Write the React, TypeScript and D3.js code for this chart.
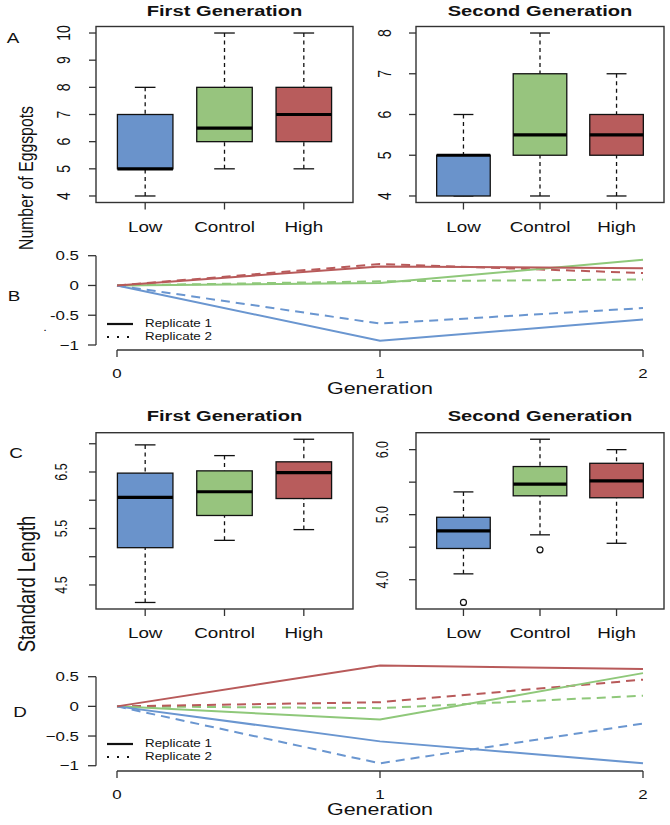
import React from "react";
import * as d3 from "d3";

// ---------- DATA ----------
const groups = ["Low", "Control", "High"];
const groupFill = ["#6a93cb", "#97c47e", "#b85c5c"];
const groupLine = ["#6a96d0", "#8fc87a", "#b85a5a"];

// box stats: [lower whisker, Q1, median, Q3, upper whisker]
const eggspotsGen1 = [
  [4, 5, 5, 7, 8],
  [5, 6, 6.5, 8, 10],
  [5, 6, 7, 8, 10],
];
const eggspotsGen2 = [
  [4, 4, 5, 5, 6],
  [4, 5, 5.5, 7, 8],
  [4, 5, 5.5, 6, 7],
];
const lengthGen1 = [
  [4.19, 5.16, 6.05, 6.48, 6.98],
  [5.29, 5.73, 6.15, 6.52, 6.79],
  [5.48, 6.03, 6.49, 6.68, 7.08],
];
const lengthGen2 = [
  [4.09, 4.48, 4.75, 4.96, 5.35],
  [4.69, 5.29, 5.47, 5.74, 6.16],
  [4.56, 5.26, 5.52, 5.79, 6.0],
];
const lengthGen2Outliers = [[3.65], [4.46], []];

const eggGen1Ticks = [4, 5, 6, 7, 8, 9, 10];
const eggGen1TickLabels = ["4", "5", "6", "7", "8", "9", "10"];
const eggGen2Ticks = [4, 5, 6, 7, 8];
const eggGen2TickLabels = ["4", "5", "6", "7", "8"];
const lenGen1Ticks = [4.5, 5, 5.5, 6, 6.5, 7];
const lenGen1TickLabels = ["4.5", "", "5.5", "", "6.5", ""];
const lenGen2Ticks = [4, 4.5, 5, 5.5, 6];
const lenGen2TickLabels = ["4.0", "", "5.0", "", "6.0"];

const generations = [0, 1, 2];
const generationLabels = ["0", "1", "2"];

// Panel B (eggspots change)
const eggLowRep1 = [0, -0.93, -0.57];
const eggLowRep2 = [0, -0.64, -0.38];
const eggControlRep1 = [0, 0.04, 0.43];
const eggControlRep2 = [0, 0.07, 0.1];
const eggHighRep1 = [0, 0.32, 0.29];
const eggHighRep2 = [0, 0.36, 0.21];

// Panel D (standard length change)
const lenLowRep1 = [0, -0.59, -0.96];
const lenLowRep2 = [0, -0.96, -0.29];
const lenControlRep1 = [0, -0.22, 0.56];
const lenControlRep2 = [0, -0.03, 0.18];
const lenHighRep1 = [0, 0.69, 0.63];
const lenHighRep2 = [0, 0.07, 0.45];

const changeTicks = [0.5, 0, -0.5, -1];
const changeTickLabelsB = ["0.5", "0", "-0.5", "\u22121"];
const changeTickLabelsD = ["0.5", "0", "\u22120.5", "\u22121"];
const legendLabels = ["Replicate 1", "Replicate 2"];

// ---------- STYLE ----------
const SX = 1.3;
const FONT = "'Liberation Sans', Arial, Helvetica, sans-serif";

function T({ x, y, size, children, anchor = "middle", weight = "normal", rotate = false }: any) {
  return (
    <text
      transform={`translate(${x},${y}) scale(${SX},1)${rotate ? " rotate(-90)" : ""}`}
      fontSize={size}
      fontWeight={weight}
      textAnchor={anchor}
      dominantBaseline="central"
      fontFamily={FONT}
      fill="#111"
    >
      {children}
    </text>
  );
}

function BoxPanel({ stats, outliers, x0, x1, y0, y1, ticks, tickLabels, tickX, tickSize, title, titleY, catY }: any) {
  const x = d3.scaleLinear().domain([0.38, 3.62]).range([x0, x1]);
  const all: number[] = [...stats.flat(), ...(outliers ? outliers.flat() : [])];
  const [mn, mx] = d3.extent(all) as [number, number];
  const pad = (mx - mn) * 0.04;
  const y = d3.scaleLinear().domain([mn - pad, mx + pad]).range([y1, y0]);
  const bw = 0.7;
  const sw = 0.13;
  return (
    <g>
      <T x={(x0 + x1) / 2} y={titleY} size={15.5} weight="bold">{title}</T>
      {stats.map((s: number[], i: number) => {
        const cx = x(i + 1);
        const l = x(i + 1 - bw / 2);
        const r = x(i + 1 + bw / 2);
        return (
          <g key={i}>
            <line x1={cx} x2={cx} y1={y(s[0])} y2={y(s[1])} stroke="#111" strokeWidth={1.3} strokeDasharray="4,3.5" />
            <line x1={cx} x2={cx} y1={y(s[4])} y2={y(s[3])} stroke="#111" strokeWidth={1.3} strokeDasharray="4,3.5" />
            <line x1={x(i + 1 - sw)} x2={x(i + 1 + sw)} y1={y(s[0])} y2={y(s[0])} stroke="#111" strokeWidth={1.3} />
            <line x1={x(i + 1 - sw)} x2={x(i + 1 + sw)} y1={y(s[4])} y2={y(s[4])} stroke="#111" strokeWidth={1.3} />
            <rect x={l} width={r - l} y={y(s[3])} height={Math.max(0, y(s[1]) - y(s[3]))} fill={groupFill[i]} stroke="#111" strokeWidth={1.3} />
            <line x1={l} x2={r} y1={y(s[2])} y2={y(s[2])} stroke="#000" strokeWidth={3.2} />
            {outliers && outliers[i].map((o: number, j: number) => (
              <circle key={j} cx={cx} cy={y(o)} r={3} fill="none" stroke="#111" strokeWidth={1.2} />
            ))}
            <line x1={cx} x2={cx} y1={y1} y2={y1 + 7} stroke="#333" strokeWidth={1.3} />
            <T x={cx} y={catY} size={14.5}>{groups[i]}</T>
          </g>
        );
      })}
      {ticks.map((t: number, i: number) => (
        <g key={"t" + i}>
          <line x1={x0 - 7} x2={x0} y1={y(t)} y2={y(t)} stroke="#333" strokeWidth={1.3} />
          {tickLabels[i] && (
            <T x={tickX} y={y(t)} size={tickSize} rotate>{tickLabels[i]}</T>
          )}
        </g>
      ))}
      <rect x={x0} y={y0} width={x1 - x0} height={y1 - y0} fill="none" stroke="#333" strokeWidth={1.4} />
    </g>
  );
}

function LinePanel({ series, yTop, yBottom, xAxisY, tickLabels, letter, letterX, letterY, legendY, showDot }: any) {
  const x = d3.scaleLinear().domain([0, 2]).range([117, 643]);
  const y = d3.scaleLinear().domain([-1, 0.5]).range([yBottom, yTop]);
  const line = d3.line<number>().x((_, i) => x(generations[i])).y((d) => y(d));
  return (
    <g>
      <T x={letterX} y={letterY} size={14.5}>{letter}</T>
      {showDot && <T x={45} y={legendY + 4} size={10}>.</T>}
      {series.map((s: any, i: number) => (
        <path key={i} d={line(s.values) || ""} fill="none" stroke={groupLine[s.group]} strokeWidth={2}
          strokeDasharray={s.rep === 2 ? "9,6" : undefined} />
      ))}
      <line x1={96} x2={96} y1={y(0.5)} y2={y(-1)} stroke="#333" strokeWidth={1.3} />
      {changeTicks.map((t, i) => (
        <g key={i}>
          <line x1={88} x2={96} y1={y(t)} y2={y(t)} stroke="#333" strokeWidth={1.3} />
          <T x={79} y={y(t)} size={13} anchor="end">{tickLabels[i]}</T>
        </g>
      ))}
      <line x1={x(0)} x2={x(2)} y1={xAxisY} y2={xAxisY} stroke="#333" strokeWidth={1.3} />
      {generations.map((g, i) => (
        <g key={g}>
          <line x1={x(g)} x2={x(g)} y1={xAxisY} y2={xAxisY + 7} stroke="#333" strokeWidth={1.3} />
          <T x={x(g)} y={xAxisY + 23} size={13}>{generationLabels[i]}</T>
        </g>
      ))}
      <T x={380} y={xAxisY + 38} size={16.5}>Generation</T>
      <line x1={107} x2={133} y1={legendY} y2={legendY} stroke="#111" strokeWidth={2.2} />
      <line x1={107} x2={133} y1={legendY + 13} y2={legendY + 13} stroke="#111" strokeWidth={2.2} strokeDasharray="2,8" />
      <T x={145} y={legendY} size={10.3} anchor="start">{legendLabels[0]}</T>
      <T x={145} y={legendY + 13} size={10.3} anchor="start">{legendLabels[1]}</T>
    </g>
  );
}

export default function App() {
  const seriesB = [
    { group: 1, rep: 2, values: eggControlRep2 },
    { group: 0, rep: 2, values: eggLowRep2 },
    { group: 2, rep: 2, values: eggHighRep2 },
    { group: 1, rep: 1, values: eggControlRep1 },
    { group: 0, rep: 1, values: eggLowRep1 },
    { group: 2, rep: 1, values: eggHighRep1 },
  ];
  const seriesD = [
    { group: 1, rep: 2, values: lenControlRep2 },
    { group: 0, rep: 2, values: lenLowRep2 },
    { group: 2, rep: 2, values: lenHighRep2 },
    { group: 1, rep: 1, values: lenControlRep1 },
    { group: 0, rep: 1, values: lenLowRep1 },
    { group: 2, rep: 1, values: lenHighRep1 },
  ];
  return (
    <svg width={670} height={825} style={{ position: "absolute", left: 0, top: 0, background: "#fff" }}>
      <rect x={0} y={0} width={670} height={825} fill="#fff" />
      {/* Row 1 */}
      <T x={13} y={38} size={14.5}>A</T>
      <T x={26} y={178} size={15.8} rotate>Number of Eggspots</T>
      <BoxPanel stats={eggspotsGen1} x0={96} x1={353} y0={26.5} y1={202.5}
        ticks={eggGen1Ticks} tickLabels={eggGen1TickLabels} tickX={63} tickSize={14}
        title="First Generation" titleY={11} catY={227} />
      <BoxPanel stats={eggspotsGen2} x0={416} x1={664} y0={26.5} y1={202.5}
        ticks={eggGen2Ticks} tickLabels={eggGen2TickLabels} tickX={384} tickSize={14}
        title="Second Generation" titleY={11} catY={227} />
      <LinePanel series={seriesB} yTop={255.7} yBottom={345} xAxisY={350}
        tickLabels={changeTickLabelsB} letter="B" letterX={14} letterY={296} legendY={324} showDot />
      {/* Row 2 */}
      <T x={16} y={453} size={14.5}>C</T>
      <T x={27} y={584} size={18.5} rotate>Standard Length</T>
      <BoxPanel stats={lengthGen1} x0={96} x1={353} y0={432.7} y1={609}
        ticks={lenGen1Ticks} tickLabels={lenGen1TickLabels} tickX={61} tickSize={12.5}
        title="First Generation" titleY={416} catY={633} />
      <BoxPanel stats={lengthGen2} outliers={lengthGen2Outliers} x0={416} x1={664} y0={432.7} y1={609}
        ticks={lenGen2Ticks} tickLabels={lenGen2TickLabels} tickX={382} tickSize={12.5}
        title="Second Generation" titleY={416} catY={633} />
      <LinePanel series={seriesD} yTop={676.7} yBottom={765.7} xAxisY={771}
        tickLabels={changeTickLabelsD} letter="D" letterX={20} letterY={712} legendY={744} />
    </svg>
  );
}
